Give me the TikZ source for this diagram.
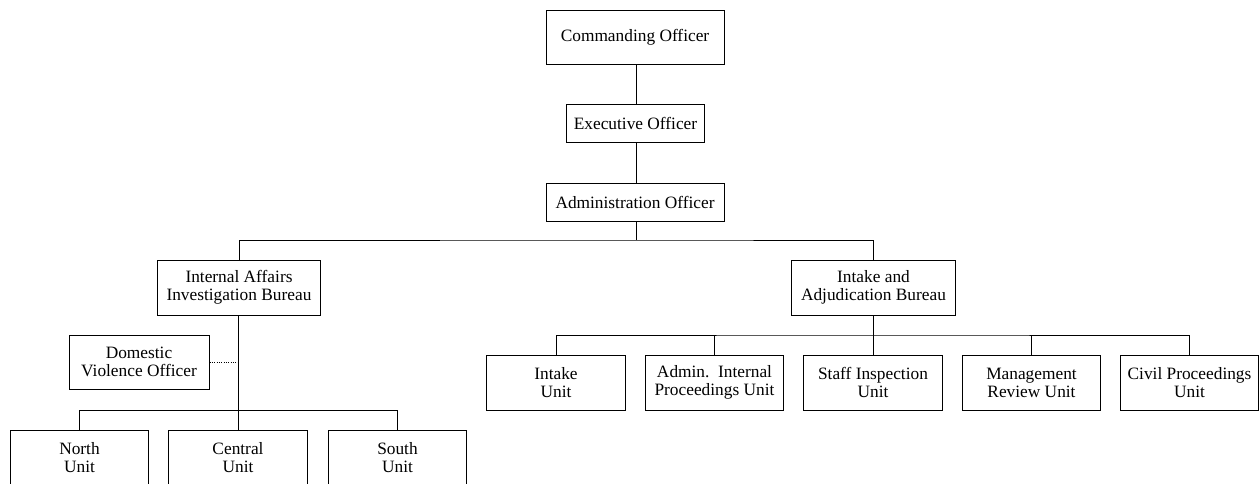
\documentclass[tikz,border=0pt]{standalone}
\usepackage{fontspec}
\setmainfont{Liberation Serif}
\begin{document}
\begin{tikzpicture}[x=0.75pt,y=-0.75pt,
  line width=0.75pt,
  box/.style={draw, line width=0.75pt, align=center, inner sep=0pt,
    font=\fontsize{13}{13.5}\selectfont},
  wide/.style={box, minimum width=133.5pt, minimum height=40.5pt},
  mid/.style={box, minimum width=122.5pt, minimum height=41.25pt},
  unit/.style={box, minimum width=104pt, minimum height=41.25pt},
  small/.style={box, minimum width=104pt, minimum height=28pt}]
\useasboundingbox (0,0) rectangle (1259,483);
\node[wide] (co) at (635,37) {Commanding Officer};
\node[small] (eo) at (635.5,123.5) {Executive Officer};
\node[box, minimum width=133.5pt, minimum height=28.5pt] (ao) at (635,202) {Administration Officer};
\node[mid] (ia) at (239,287.5) {Internal Affairs\\Investigation Bureau};
\node[mid] (iab) at (873.5,287.5) {Intake and\\Adjudication Bureau};
\node[box, minimum width=105pt, minimum height=40.5pt] (dv) at (139,362) {Domestic\\Violence Officer};
\node[unit] (north) at (79.5,457.5) {North\\Unit};
\node[unit] (central) at (238,457.5) {Central\\Unit};
\node[unit] (south) at (397.5,457.5) {South\\Unit};
\node[unit] (intake) at (556,382.5) {Intake\\Unit};
\node[unit] (admin) at (714.5,382.5) {Admin.\ \ Internal\\Proceedings Unit};
\node[unit] (staff) at (873,382.5) {Staff Inspection\\Unit};
\node[unit] (mgmt) at (1031.5,382.5) {Management\\Review Unit};
\node[unit] (civil) at (1189.5,382.5) {Civil Proceedings\\Unit};
\coordinate (bar1) at (636,240);
\coordinate (bar2) at (238,410);
\coordinate (bar3) at (873,335);
\draw (co.south -| bar1) -- (eo.north -| bar1);
\draw (eo.south -| bar1) -- (ao.north -| bar1);
\draw (ao.south -| bar1) -- (bar1);
\draw (ia.north) |- (bar1) -| (iab.north);
\draw (ia.south -| bar2) -- (central.north);
\draw (north.north) |- (bar2) -| (south.north);
\draw[densely dotted] (dv.east) -- (dv.east -| bar2);
\draw (iab.south -| bar3) -- (staff.north);
\draw (intake.north) |- (bar3) -| (civil.north);
\draw (admin.north) -- (admin.north |- bar3);
\draw (mgmt.north) -- (mgmt.north |- bar3);
\end{tikzpicture}
\end{document}
